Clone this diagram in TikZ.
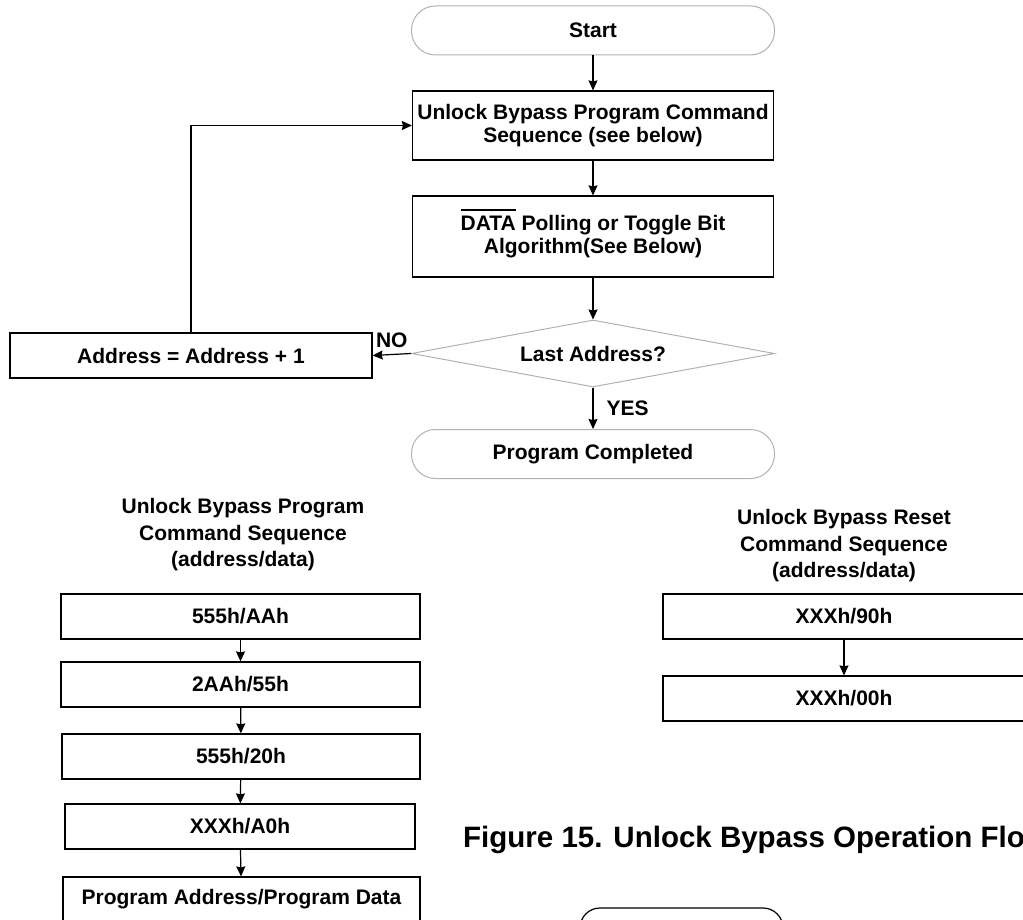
\documentclass[tikz,border=0pt]{standalone}
\usepackage{fontspec}
\setmainfont{Liberation Sans}
\usepackage{tikz}
\usetikzlibrary{shapes.geometric, arrows.meta, positioning}
\newcommand{\barred}[1]{\leavevmode\smash{\vbox{\hrule height 2pt\kern 5pt\hbox{#1}}}}
\tikzstyle{arrow} = [line width=1.2pt,-{Stealth[length=10pt,width=9pt,inset=1pt]}]
\tikzstyle{process} = [rectangle, draw=black, line width=1.2pt, minimum height=45pt, inner sep=0pt, align=center, font=\fontsize{21}{23}\selectfont\bfseries]
\tikzstyle{terminal} = [rectangle, rounded corners=24pt, draw=gray!60, line width=1pt, minimum width=363pt, minimum height=49pt, inner sep=0pt, font=\fontsize{21}{23}\selectfont\bfseries]
\tikzstyle{decision} = [diamond, draw=gray!60, line width=1pt, aspect=5.4, minimum width=363pt, minimum height=67pt, inner sep=0pt, font=\fontsize{21}{23}\selectfont\bfseries]
\tikzstyle{heading} = [align=center, inner sep=0pt, font=\fontsize{21}{26.5}\selectfont\bfseries]
\tikzstyle{tag} = [inner sep=0pt, font=\fontsize{21}{23}\selectfont\bfseries]

\begin{document}
\begin{tikzpicture}[x=1pt, y=-1pt]

   \useasboundingbox (0,0) rectangle (1023,920);
   \clip (0,0) rectangle (1023,920);

   % main flow
   \node[terminal] (start) at (593,30.5) {Start};
   \node[process, minimum width=361pt, minimum height=69pt] (unlock) at (593,125.5) {Unlock Bypass Program Command\\Sequence (see below)};
   \node[process, minimum width=361pt, minimum height=81pt] (poll) at (593,236.5) {\barred{DATA} Polling or Toggle Bit\\Algorithm(See Below)};
   \node[decision] (last) at (593,353.5) {Last Address?};
   \node[process, minimum width=362pt] (addr) at (191,355.5) {Address = Address + 1};
   \node[terminal] (done) at (593,454) {Program Completed};

   \draw[arrow] (start) -- (unlock);
   \draw[arrow] (unlock) -- (poll);
   \draw[arrow] (poll) -- (last);
   \draw[arrow] (last.west) -- (addr.east) node[tag, midway, above=6pt] (no) {NO};
   \draw[arrow] (last.south) -- (done.north) node[tag, midway, right=13pt] (yes) {YES};
   \draw[arrow] (addr.north) |- (unlock.west);

   % program command sequence
   \node[heading] (proghdr) at (243,535) {Unlock Bypass Program\\Command Sequence\\(address/data)};
   \node[process, minimum width=359pt] (s1) at (240.5,616.5) {555h/AAh};
   \node[process, minimum width=359pt] (s2) at (240.5,684.5) {2AAh/55h};
   \node[process, minimum width=358pt] (s3) at (241,756.5) {555h/20h};
   \node[process, minimum width=350pt] (s4) at (240,826.5) {XXXh/A0h};
   \node[process, minimum width=357pt] (s5) at (241.5,899.5) {Program Address/Program Data};

   \draw[arrow] (s1) -- (s2);
   \draw[arrow] (s2) -- (s3);
   \draw[arrow] (s3) -- (s4);
   \draw[arrow] (s4) -- (s5);

   % reset command sequence
   \node[heading] (rsthdr) at (844,546) {Unlock Bypass Reset\\Command Sequence\\(address/data)};
   \node[process, minimum width=362pt] (r1) at (844,616.5) {XXXh/90h};
   \node[process, minimum width=362pt] (r2) at (844,698.5) {XXXh/00h};

   \draw[arrow] (r1) -- (r2);

   % caption and next chart
   \node[anchor=west, inner sep=0pt, font=\fontsize{29.5}{32}\selectfont\bfseries] (caption) at (463,840) {Figure 15. Unlock Bypass Operation Flo};
   \node[rectangle, rounded corners=20pt, draw=black, line width=1.2pt, minimum width=203pt, minimum height=44pt] (next) at (681.5,930) {};

\end{tikzpicture}
\end{document}
